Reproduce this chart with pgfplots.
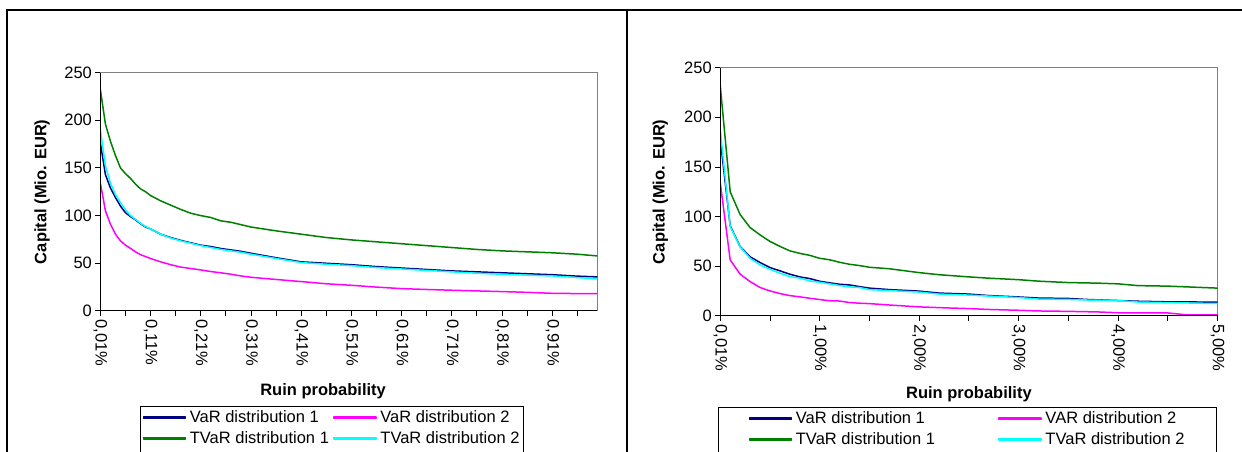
\documentclass[border=0pt]{standalone}
\usepackage{fontspec}
\setmainfont{Liberation Sans}
\usepackage{pgfplots}
\pgfplotsset{compat=1.18}
\definecolor{vnavy}{RGB}{0,0,128}
\definecolor{vmag}{RGB}{255,0,255}
\definecolor{vgreen}{RGB}{0,128,0}
\definecolor{vcyan}{RGB}{0,255,255}
\newcommand\ff{\fontsize{16.5}{19.8}\selectfont}
\pgfplotsset{
  capstyle/.style={
    scale only axis,
    ymin=0, ymax=250,
    ytick={0,50,...,250},
    tick pos=left,
    tick align=outside,
    major tick length=5pt,
    minor tick length=5pt,
    tick style={black, line width=0.9pt},
    minor tick style={black, line width=0.9pt},
    axis line style={draw=gray, line width=0.9pt},
    /pgf/number format/assume math mode=true,
    tick label style={font=\ff, black},
    label style={font=\ff\bfseries},
    xticklabel style={rotate=-90, anchor=west},
    legend columns=2,
    legend cell align=left,
    legend image code/.code={\fill[##1] (0pt,-0.8pt) rectangle (42pt,0.8pt);},
    every axis plot/.append style={line width=1.5pt, line join=round, mark=none},
    after end axis/.code={\draw[black, line width=0.9pt] (rel axis cs:0,1) -- (rel axis cs:0,0) -- (rel axis cs:1,0);},
  }
}
\begin{document}
\begin{tikzpicture}[x=1pt,y=1pt]
% ---------------- left chart ----------------
\begin{axis}[capstyle,
  at={(200,148)}, anchor=south west,
  width=497pt, height=238.3pt,
  xmin=0, xmax=99,
  xtick={0,10,...,90},
  xticklabels={{0,01\%},{0,11\%},{0,21\%},{0,31\%},{0,41\%},{0,51\%},{0,61\%},{0,71\%},{0,81\%},{0,91\%}},
  minor xtick={5,15,...,95},
  xlabel={Ruin probability},
  ylabel={Capital (Mio. EUR)},
  xlabel style={at={(axis description cs:0.448,-0.336)}, anchor=center},
  ylabel style={at={(axis description cs:-0.1175,0.5)}, anchor=center},
  legend style={at={(axis description cs:0.0805,-0.3987)}, anchor=north west,
    draw=black, line width=0.9pt, font=\ff, inner xsep=2pt, inner ysep=3pt,
    nodes={inner sep=1.5pt}, row sep=4pt,
    /tikz/every odd column/.append style={column sep=2pt},
    /tikz/every even column/.append style={column sep=3pt}},
]
\addlegendimage{vnavy}\addlegendentry{VaR distribution 1}
\addlegendimage{vmag}\addlegendentry{VaR distribution 2}
\addlegendimage{vgreen}\addlegendentry{TVaR distribution 1}
\addlegendimage{vcyan}\addlegendentry{TVaR distribution 2}
\addlegendimage{empty legend}\addlegendentry{\strut}
\addplot[vnavy, forget plot] coordinates {(0,176)(1,143)(2,129)(3,119)(4,110)(5,103)(6,99)(7,95.5)(8,91.5)(9,88)(10,86)(12,80.5)(14,77)(16,74)(18,71.5)(20,69)(22,67.5)(24,65.5)(26,64)(28,62.5)(30,60.5)(35,55.8)(40,51.5)(45,50)(50,48.5)(55,46.5)(60,45)(65,43.5)(70,42)(75,41)(80,40)(85,39)(90,38)(95,36.5)(99,35.7)};
\addplot[vmag, forget plot] coordinates {(0,134)(1,105)(2,91)(3,80.5)(4,73.5)(5,69)(6,65.5)(7,62)(8,59)(9,57)(10,55)(12,51.5)(14,48.5)(16,46)(18,44.5)(20,43)(22,41.3)(24,40)(26,38.5)(28,36.7)(30,35.3)(35,33)(40,30.8)(45,28.5)(50,26.9)(55,25)(60,23.4)(65,22.5)(70,21.7)(75,21)(80,20.3)(85,19.5)(90,18.5)(95,18.2)(99,18.2)};
\addplot[vgreen, forget plot] coordinates {(0,232)(1,196)(2,178)(3,163)(4,150)(5,144)(6,139)(7,133)(8,128)(9,125)(10,121)(12,115.5)(14,111)(16,106.5)(18,102.5)(20,100)(22,98)(24,94.5)(26,93)(28,90.5)(30,88)(35,84)(40,80.5)(45,77)(50,74.5)(55,72.5)(60,70.5)(65,68.5)(70,66.5)(75,64.5)(80,63)(85,62)(90,61)(95,59.5)(99,57.7)};
\addplot[vcyan, forget plot] coordinates {(0,190)(1,152)(2,134)(3,122)(4,113.5)(5,106)(6,100)(7,96)(8,92)(9,88.5)(10,86)(12,80.5)(14,76.5)(16,73.5)(18,71)(20,68.5)(22,66.5)(24,64.5)(26,63)(28,61.5)(30,59.5)(35,55)(40,50.7)(45,49)(50,47.5)(55,45.5)(60,44)(65,42.5)(70,41)(75,39.5)(80,38.5)(85,37.5)(90,36.7)(95,35)(99,33.6)};
\end{axis}
% ---------------- right chart ----------------
\begin{axis}[capstyle,
  at={(724,137)}, anchor=south west,
  width=497.4pt, height=248.3pt,
  xmin=0, xmax=50,
  xtick={0,10,...,50},
  xticklabels={{0,01\%},{1,00\%},{2,00\%},{3,00\%},{4,00\%},{5,00\%}},
  minor xtick={5,15,...,45},
  xlabel={Ruin probability},
  ylabel={Capital (Mio. EUR)},
  xlabel style={at={(axis description cs:0.5,-0.314)}, anchor=center},
  ylabel style={at={(axis description cs:-0.1206,0.5)}, anchor=center},
  legend style={at={(axis description cs:-0.0036,-0.3665)}, anchor=north west,
    draw=black, line width=0.9pt, font=\ff, inner xsep=30pt, inner ysep=3pt,
    nodes={inner sep=1.5pt}, row sep=4pt,
    /tikz/every odd column/.append style={column sep=2pt},
    /tikz/every even column/.append style={column sep=62pt}},
]
\addplot[vnavy] coordinates {(0,178)(1,90.7)(2,69.9)(3,59.5)(4,53.8)(5,48.7)(6,45.4)(7,42)(8,39.3)(9,37.6)(10,34.9)(11,33.3)(12,31.9)(13,31.2)(14,29.5)(15,28)(17,26.5)(20,25)(22,23)(25,22)(27,20.5)(30,19.1)(32,18)(35,17.6)(37,16.5)(40,15.5)(42,14.8)(45,14.2)(50,13.9)};
\addlegendentry{VaR distribution 1}
\addplot[vmag] coordinates {(0,134.4)(1,56.4)(2,42)(3,34.6)(4,28.6)(5,25.2)(6,22.5)(7,20.5)(8,19.2)(9,17.8)(10,16.5)(11,15.3)(12,15)(13,13.5)(14,12.8)(15,12.4)(17,11)(20,9.1)(23,8)(25,7.4)(27,6.5)(30,5.7)(32,5)(35,4.6)(38,4)(40,3.2)(45,3)(46,2)(47,1)(50,1)};
\addlegendentry{VAR distribution 2}
\addplot[vgreen] coordinates {(0,232)(1,125)(2,102)(3,89)(4,81.6)(5,75)(6,70)(7,65.5)(8,63)(9,61)(10,58)(11,56.5)(12,54)(13,52)(14,50.7)(15,49)(17,47.5)(20,43.6)(22,41.5)(25,39.3)(27,38)(30,36.5)(32,35)(35,33.6)(38,33)(40,32.3)(42,30.5)(45,30)(48,28.8)(50,28)};
\addlegendentry{TVaR distribution 1}
\addplot[vcyan] coordinates {(0,188)(1,90)(2,69.5)(3,58.1)(4,51.4)(5,47)(6,43)(7,39.6)(8,38)(9,35.3)(10,33.9)(11,32.3)(12,30.6)(13,29.2)(14,28.6)(15,26.5)(17,25.5)(20,24)(22,22)(25,21)(27,20)(30,18.5)(32,17)(35,16.6)(37,16)(40,15.5)(42,14)(45,13.4)(50,12.5)};
\addlegendentry{TVaR distribution 2}
\addlegendimage{empty legend}\addlegendentry{\strut}
\end{axis}
% ---------------- outer frame ----------------
\draw[black, line width=1.3pt] (7,0) -- (7,442) -- (1242,442);
\draw[black, line width=1.3pt] (627,0) -- (627,442);
\pgfresetboundingbox
\useasboundingbox (0,0) rectangle (1242,452);
\end{tikzpicture}
\end{document}
